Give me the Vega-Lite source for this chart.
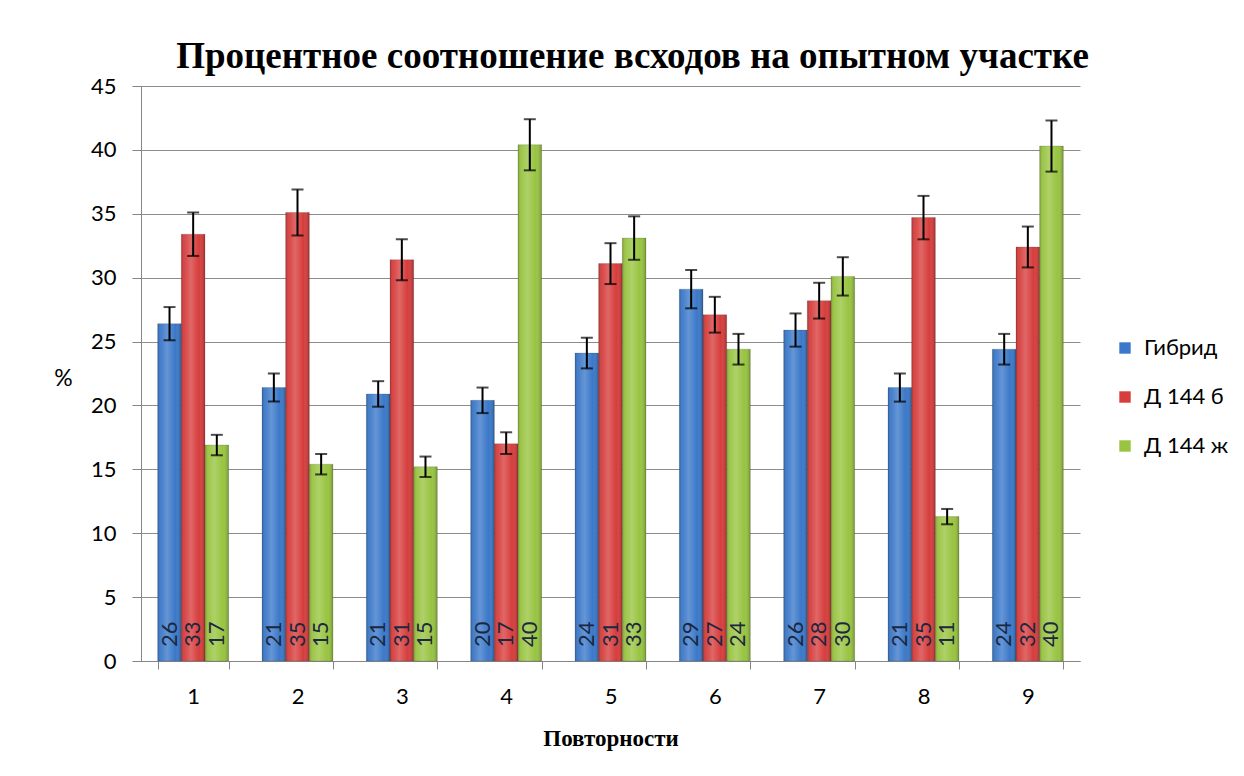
{
  "$schema": "https://vega.github.io/schema/vega-lite/v6.json",
  "width": 939,
  "height": 575,
  "autosize": "none",
  "padding": {"left": 141, "top": 86, "right": 164, "bottom": 115},
  "background": "white",
  "title": {
    "text": "Процентное соотношение всходов на опытном участке",
    "font": "Liberation Serif",
    "fontSize": 37,
    "fontWeight": "bold",
    "color": "#000000",
    "anchor": "middle",
    "dx": 22,
    "offset": -1
  },
  "data": {
    "values": [
      {"rep": "1", "series": "Гибрид", "value": 26.4, "lo": 25.1, "hi": 27.7, "lab": "26"},
      {"rep": "1", "series": "Д 144 б", "value": 33.4, "lo": 31.7, "hi": 35.1, "lab": "33"},
      {"rep": "1", "series": "Д 144 ж", "value": 16.9, "lo": 16.1, "hi": 17.7, "lab": "17"},
      {"rep": "2", "series": "Гибрид", "value": 21.4, "lo": 20.3, "hi": 22.5, "lab": "21"},
      {"rep": "2", "series": "Д 144 б", "value": 35.1, "lo": 33.3, "hi": 36.9, "lab": "35"},
      {"rep": "2", "series": "Д 144 ж", "value": 15.4, "lo": 14.6, "hi": 16.2, "lab": "15"},
      {"rep": "3", "series": "Гибрид", "value": 20.9, "lo": 19.9, "hi": 21.9, "lab": "21"},
      {"rep": "3", "series": "Д 144 б", "value": 31.4, "lo": 29.8, "hi": 33.0, "lab": "31"},
      {"rep": "3", "series": "Д 144 ж", "value": 15.2, "lo": 14.4, "hi": 16.0, "lab": "15"},
      {"rep": "4", "series": "Гибрид", "value": 20.4, "lo": 19.4, "hi": 21.4, "lab": "20"},
      {"rep": "4", "series": "Д 144 б", "value": 17.0, "lo": 16.2, "hi": 17.9, "lab": "17"},
      {"rep": "4", "series": "Д 144 ж", "value": 40.4, "lo": 38.4, "hi": 42.4, "lab": "40"},
      {"rep": "5", "series": "Гибрид", "value": 24.1, "lo": 22.9, "hi": 25.3, "lab": "24"},
      {"rep": "5", "series": "Д 144 б", "value": 31.1, "lo": 29.5, "hi": 32.7, "lab": "31"},
      {"rep": "5", "series": "Д 144 ж", "value": 33.1, "lo": 31.4, "hi": 34.8, "lab": "33"},
      {"rep": "6", "series": "Гибрид", "value": 29.1, "lo": 27.6, "hi": 30.6, "lab": "29"},
      {"rep": "6", "series": "Д 144 б", "value": 27.1, "lo": 25.7, "hi": 28.5, "lab": "27"},
      {"rep": "6", "series": "Д 144 ж", "value": 24.4, "lo": 23.2, "hi": 25.6, "lab": "24"},
      {"rep": "7", "series": "Гибрид", "value": 25.9, "lo": 24.6, "hi": 27.2, "lab": "26"},
      {"rep": "7", "series": "Д 144 б", "value": 28.2, "lo": 26.8, "hi": 29.6, "lab": "28"},
      {"rep": "7", "series": "Д 144 ж", "value": 30.1, "lo": 28.6, "hi": 31.6, "lab": "30"},
      {"rep": "8", "series": "Гибрид", "value": 21.4, "lo": 20.3, "hi": 22.5, "lab": "21"},
      {"rep": "8", "series": "Д 144 б", "value": 34.7, "lo": 33.0, "hi": 36.4, "lab": "35"},
      {"rep": "8", "series": "Д 144 ж", "value": 11.3, "lo": 10.7, "hi": 11.9, "lab": "11"},
      {"rep": "9", "series": "Гибрид", "value": 24.4, "lo": 23.2, "hi": 25.6, "lab": "24"},
      {"rep": "9", "series": "Д 144 б", "value": 32.4, "lo": 30.8, "hi": 34.0, "lab": "32"},
      {"rep": "9", "series": "Д 144 ж", "value": 40.3, "lo": 38.3, "hi": 42.3, "lab": "40"}
    ]
  },
  "encoding": {
    "x": {
      "field": "rep",
      "type": "nominal",
      "scale": {"paddingInner": 0.32, "paddingOuter": 0.16},
      "axis": {
        "title": "Повторности",
        "titleFont": "Liberation Serif",
        "titleFontSize": 23,
        "titleFontWeight": "bold",
        "titleColor": "#000000",
        "titlePadding": 20,
        "labelAngle": 0,
        "labelFont": "Lato",
        "labelFontSize": 22,
        "labelColor": "#000000",
        "labelPadding": 17,
        "tickBand": "extent",
        "tickSize": 8,
        "tickColor": "#868686",
        "domainColor": "#868686",
        "grid": false
      }
    },
    "xOffset": {"field": "series", "type": "nominal", "scale": {"paddingInner": 0, "paddingOuter": 0}}
  },
  "layer": [
    {
      "mark": {"type": "bar", "stroke": "#2a2a2a", "strokeOpacity": 0.3, "strokeWidth": 0.6},
      "encoding": {
        "y": {
          "field": "value",
          "type": "quantitative",
          "scale": {"domain": [0, 45]},
          "axis": {
            "values": [0, 5, 10, 15, 20, 25, 30, 35, 40, 45],
            "title": "%",
            "titleAngle": 0,
            "titleFont": "Lato",
            "titleFontSize": 23,
            "titleFontWeight": "normal",
            "titleColor": "#000000",
            "titleX": -78,
            "titleY": 292,
            "titleAlign": "center",
            "titleBaseline": "middle",
            "labelFont": "Lato",
            "labelFontSize": 22,
            "labelColor": "#000000",
            "labelPadding": 16,
            "tickSize": 9,
            "tickColor": "#868686",
            "domainColor": "#868686",
            "gridColor": "#8c8c8c",
            "gridWidth": 1.2
          }
        },
        "color": {
          "field": "series",
          "type": "nominal",
          "scale": {"domain": ["Гибрид", "Д 144 б", "Д 144 ж"], "range": ["#3a78c9", "#d63d3c", "#98c440"]},
          "legend": {
            "title": null,
            "orient": "none",
            "legendX": 973,
            "legendY": 251,
            "symbolType": "square",
            "symbolSize": 130,
            "symbolStrokeWidth": 0,
            "labelFont": "Lato",
            "labelFontSize": 22,
            "labelColor": "#000000",
            "rowPadding": 27,
            "labelOffset": 8
          }
        }
      }
    },
    {
      "mark": {
        "type": "bar",
        "fill": {
          "gradient": "linear",
          "x1": 0, "x2": 1, "y1": 0, "y2": 0,
          "stops": [
            {"offset": 0, "color": "rgba(0,0,0,0.2)"},
            {"offset": 0.15, "color": "rgba(255,255,255,0.06)"},
            {"offset": 0.4, "color": "rgba(255,255,255,0.22)"},
            {"offset": 0.75, "color": "rgba(255,255,255,0.0)"},
            {"offset": 1, "color": "rgba(0,0,0,0.25)"}
          ]
        }
      },
      "encoding": {
        "y": {"field": "value", "type": "quantitative"}
      }
    },
    {
      "mark": {"type": "rule", "color": "#000000", "strokeWidth": 2},
      "encoding": {
        "y": {"field": "lo", "type": "quantitative"},
        "y2": {"field": "hi"}
      }
    },
    {
      "mark": {"type": "tick", "color": "#000000", "thickness": 2, "size": 12},
      "encoding": {"y": {"field": "lo", "type": "quantitative"}}
    },
    {
      "mark": {"type": "tick", "color": "#000000", "thickness": 2, "size": 12},
      "encoding": {"y": {"field": "hi", "type": "quantitative"}}
    },
    {
      "mark": {"type": "text", "angle": 270, "align": "left", "baseline": "middle", "dx": 14, "font": "Lato", "fontSize": 22, "color": "#1c2740"},
      "encoding": {
        "y": {"datum": 0, "type": "quantitative"},
        "text": {"field": "lab"}
      }
    }
  ],
  "config": {
    "view": {"stroke": null}
  }
}
